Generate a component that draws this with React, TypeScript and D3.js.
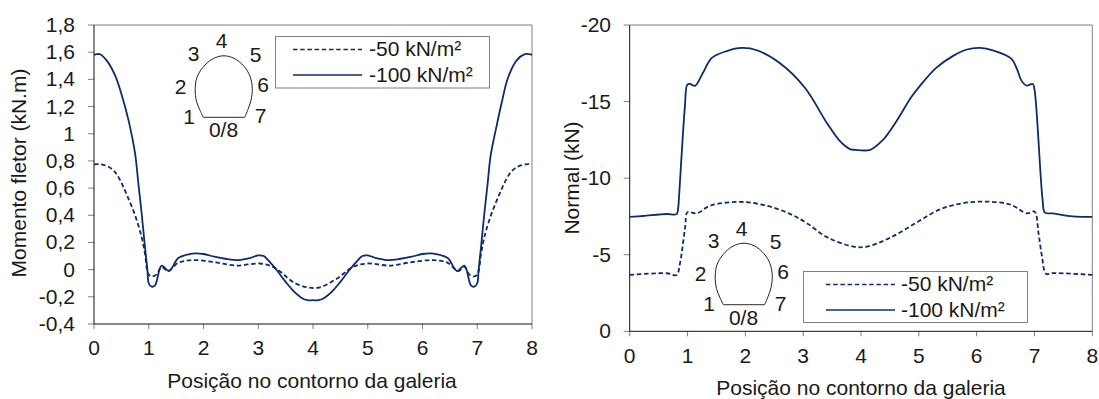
import React from "react";
import * as d3 from "d3";

const momentX100 = [0, 0.05, 0.11, 0.23, 0.385, 0.51, 0.63, 0.75, 0.81, 0.87, 0.93, 0.975, 1.0, 1.05, 1.115, 1.235, 1.37, 1.54, 1.75, 1.85, 2, 2.2, 2.4, 2.65, 2.85, 3.0, 3.1, 3.2, 3.35, 3.5, 3.65, 3.8, 3.9, 4, 4.1, 4.2, 4.35, 4.5, 4.65, 4.8, 4.9, 5.0, 5.15, 5.35, 5.6, 5.8, 6.0, 6.15, 6.25, 6.46, 6.63, 6.765, 6.885, 6.95, 7.0, 7.025, 7.07, 7.13, 7.19, 7.245, 7.355, 7.45, 7.56, 7.72, 7.87, 7.95, 8];
const moment100 = [1.58, 1.585, 1.585, 1.54, 1.43, 1.28, 1.1, 0.855, 0.635, 0.415, 0.17, 0, -0.1, -0.125, -0.115, 0.03, -0.01, 0.085, 0.115, 0.12, 0.115, 0.095, 0.08, 0.07, 0.085, 0.105, 0.1, 0.06, -0.01, -0.09, -0.16, -0.21, -0.225, -0.225, -0.225, -0.21, -0.16, -0.09, -0.01, 0.06, 0.1, 0.105, 0.085, 0.07, 0.08, 0.095, 0.115, 0.12, 0.115, 0.085, -0.01, 0.03, -0.115, -0.125, -0.1, 0, 0.17, 0.415, 0.635, 0.84, 1.06, 1.235, 1.41, 1.54, 1.585, 1.585, 1.58];
const momentX50 = [0, 0.11, 0.25, 0.38, 0.475, 0.6, 0.75, 0.87, 0.93, 0.99, 1.05, 1.145, 1.235, 1.35, 1.54, 1.8, 2.2, 2.6, 3.03, 3.27, 3.45, 3.63, 3.89, 4.13, 4.44, 4.73, 5.0, 5.4, 5.8, 6.2, 6.46, 6.65, 6.765, 6.855, 6.95, 7.01, 7.07, 7.13, 7.25, 7.4, 7.525, 7.62, 7.75, 7.89, 8];
const moment50 = [0.775, 0.775, 0.76, 0.72, 0.66, 0.55, 0.4, 0.24, 0.12, -0.03, -0.05, -0.035, 0.02, -0.01, 0.05, 0.07, 0.055, 0.03, 0.045, 0.02, -0.03, -0.09, -0.13, -0.13, -0.065, 0.02, 0.045, 0.03, 0.055, 0.07, 0.05, -0.01, 0.02, -0.035, -0.05, -0.03, 0.12, 0.24, 0.4, 0.55, 0.66, 0.72, 0.76, 0.775, 0.775];

const normalX100 = [0, 0.23, 0.64, 0.81, 0.84, 0.85, 0.955, 0.995, 1.04, 1.13, 1.27, 1.42, 1.68, 1.94, 2.2, 2.6, 3.03, 3.41, 3.64, 3.81, 3.9, 4.16, 4.38, 4.61, 4.87, 5.02, 5.3, 5.6, 5.83, 6.06, 6.28, 6.6, 6.7, 6.77, 6.86, 6.97, 7.0, 7.14, 7.18, 7.32, 7.66, 8];
const normal100 = [7.47, 7.53, 7.66, 7.65, 8.1, 8.6, 14.7, 16.1, 16.15, 16.03, 16.9, 17.85, 18.3, 18.5, 18.35, 17.5, 15.9, 13.6, 12.4, 11.9, 11.85, 11.85, 12.5, 13.7, 15.3, 16.03, 17.2, 18, 18.4, 18.5, 18.35, 17.8, 17.1, 16.4, 16.05, 16.15, 15.8, 8.6, 7.75, 7.7, 7.5, 7.47];
const normalX50 = [0, 0.64, 0.81, 0.87, 0.96, 1.0, 1.16, 1.39, 1.91, 2.37, 2.77, 3.06, 3.41, 3.87, 4.1, 4.5, 4.96, 5.37, 5.77, 6.17, 6.58, 6.87, 7.0, 7.07, 7.13, 7.2, 7.32, 8];
const normal50 = [3.68, 3.79, 3.68, 4.45, 6.84, 7.78, 7.7, 8.2, 8.45, 8.2, 7.67, 7.07, 6.15, 5.53, 5.53, 6.1, 7.1, 7.97, 8.37, 8.47, 8.28, 7.7, 7.82, 6.4, 4.88, 3.75, 3.8, 3.68];

const xTicks = [0, 1, 2, 3, 4, 5, 6, 7, 8];
const momentTicks = [1.8, 1.6, 1.4, 1.2, 1, 0.8, 0.6, 0.4, 0.2, 0, -0.2, -0.4];
const normalTicks = [20, 15, 10, 5, 0];
const legendLabels = ["-50 kN/m²", "-100 kN/m²"];
const tunnelLabels = ["4", "3", "5", "2", "6", "1", "7", "0/8"];

const NAVY = "#0c2c6e";
const GRAY = "#7f7f7f";
const FONT = "'Liberation Sans', Arial, sans-serif";
const FS = 21;

const labelOffsets: [number, number][] = [[-2.3, -69], [-30.5, -56.5], [31.5, -55.5], [-43.5, -23.5], [39, -25.5], [-35, 6.3], [36.5, 6], [-0.5, 20]];
const tunnelOutline: [number, number][] = [[-20.7, 0], [-24, -7], [-27.5, -16], [-28.8, -28], [-27, -40], [-21, -50], [-12, -58], [-1, -61.5], [10, -59], [20, -51], [26, -41], [28.3, -29], [27, -17], [24, -8], [20.7, 0]];

function Tunnel({ cx, cy }: { cx: number; cy: number }) {
  const path = d3.line().curve(d3.curveCatmullRom)(tunnelOutline.map(([a, b]) => [cx + a, cy + b] as [number, number])) || "";
  return (
    <g>
      <path d={path} fill="none" stroke="#222" strokeWidth={1} />
      <line x1={cx - 20.7} x2={cx + 20.7} y1={cy} y2={cy} stroke="#555" strokeWidth={1.2} />
      {tunnelLabels.map((t, i) => (
        <text key={t} x={cx + labelOffsets[i][0]} y={cy + labelOffsets[i][1]} textAnchor="middle" fontSize={FS}>{t}</text>
      ))}
    </g>
  );
}

function Legend({ x, y, w, h, lx, tx }: { x: number; y: number; w: number; h: number; lx: number; tx: number }) {
  return (
    <g>
      <rect x={x} y={y} width={w} height={h} fill="#fff" stroke={GRAY} strokeWidth={1} />
      <line x1={lx} x2={lx + 69} y1={y + 13} y2={y + 13} stroke={NAVY} strokeWidth={1.7} strokeDasharray="4.5 2.7" />
      <line x1={lx} x2={lx + 69} y1={y + 38.5} y2={y + 38.5} stroke={NAVY} strokeWidth={1.7} />
      <text x={tx} y={y + 19.5} fontSize={FS}>{legendLabels[0]}</text>
      <text x={tx} y={y + 45} fontSize={FS}>{legendLabels[1]}</text>
    </g>
  );
}

type PanelProps = {
  left: number; right: number; top: number; bottom: number;
  domain: [number, number]; ticks: number[];
  fmt: (v: number) => string;
  series: { xs: number[]; ys: number[]; dash?: string }[];
  xLabelBase: number; xTickBase: number; xLabelCenter: number;
  yLabel: string; yLabelX: number; yLabelY: number; tickRight: number;
};

function Panel(p: PanelProps) {
  const x = d3.scaleLinear().domain([0, 8]).range([p.left, p.right]);
  const y = d3.scaleLinear().domain(p.domain).range([p.bottom, p.top]);
  return (
    <g>
      <line x1={p.left} x2={p.right} y1={p.top} y2={p.top} stroke={GRAY} strokeWidth={1} />
      <line x1={p.right} x2={p.right} y1={p.top} y2={p.bottom} stroke={GRAY} strokeWidth={1} />
      {p.ticks.map((t) => (
        <g key={t}>
          <line x1={p.left - 6} x2={p.left} y1={y(t)} y2={y(t)} stroke={GRAY} strokeWidth={1} />
          <text x={p.tickRight} y={y(t) + 7} textAnchor="end" fontSize={FS}>{p.fmt(t)}</text>
        </g>
      ))}
      {xTicks.map((t) => (
        <g key={t}>
          <line x1={x(t)} x2={x(t)} y1={p.bottom} y2={p.bottom + 5} stroke={GRAY} strokeWidth={1} />
          <text x={x(t)} y={p.xTickBase} textAnchor="middle" fontSize={FS}>{t}</text>
        </g>
      ))}
      <line x1={p.left} x2={p.left} y1={p.top} y2={p.bottom} stroke="#111" strokeWidth={1} />
      <line x1={p.left} x2={p.right} y1={p.bottom} y2={p.bottom} stroke="#111" strokeWidth={1} />
      {p.series.map((s, i) => {
        const d = d3.line<number>().x((v) => x(v)).y((_, j) => y(s.ys[j])).curve(d3.curveCatmullRom.alpha(0.5))(s.xs) || "";
        return <path key={i} d={d} fill="none" stroke={NAVY} strokeWidth={1.8} strokeDasharray={s.dash} />;
      })}
      <text x={p.xLabelCenter} y={p.xLabelBase} textAnchor="middle" fontSize={FS}>Posição no contorno da galeria</text>
      <text transform={`translate(${p.yLabelX},${p.yLabelY}) rotate(-90)`} textAnchor="middle" fontSize={FS}>{p.yLabel}</text>
    </g>
  );
}

export default function App() {
  return (
    <svg width={1099} height={399} style={{ position: "absolute", left: 0, top: 0, fontFamily: FONT }} fill="#1a1a1a">
      <rect width={1099} height={399} fill="#fff" />
      <Panel
        left={94} right={532} top={25} bottom={324}
        domain={[-0.4, 1.8]} ticks={momentTicks}
        fmt={(v) => String(v).replace(".", ",")}
        series={[
          { xs: momentX50, ys: moment50, dash: "4.5 2.7" },
          { xs: momentX100, ys: moment100 },
        ]}
        xTickBase={355} xLabelBase={388} xLabelCenter={312}
        yLabel="Momento fletor (kN.m)" yLabelX={26} yLabelY={173} tickRight={75}
      />
      <Legend x={275.5} y={36.5} w={214} h={51.5} lx={293} tx={369} />
      <Tunnel cx={224} cy={117.3} />
      <Panel
        left={629.7} right={1092.3} top={25} bottom={331.3}
        domain={[0, 20]} ticks={normalTicks}
        fmt={(v) => (v === 0 ? "0" : `-${v}`)}
        series={[
          { xs: normalX50, ys: normal50, dash: "4.5 2.7" },
          { xs: normalX100, ys: normal100 },
        ]}
        xTickBase={362.5} xLabelBase={395} xLabelCenter={861}
        yLabel="Normal (kN)" yLabelX={579} yLabelY={178} tickRight={611}
      />
      <Legend x={803.5} y={271.5} w={224} h={51} lx={826} tx={901} />
      <Tunnel cx={744} cy={304.7} />
    </svg>
  );
}
